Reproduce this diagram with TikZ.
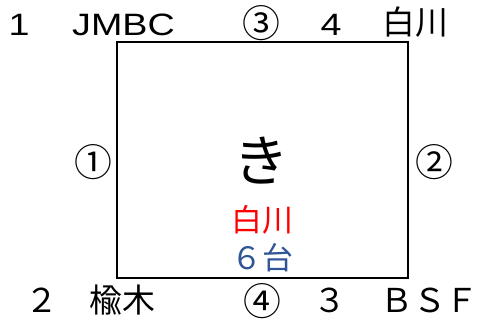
\documentclass[tikz,border=0pt]{standalone}
\usepackage{fontspec}
\setmainfont{Noto Sans CJK JP}
\newfontfamily\latinfont[FakeStretch=1.22]{Liberation Sans}
\definecolor{carblue}{RGB}{47,85,151}

\begin{document}
\begin{tikzpicture}[x=1bp,y=1bp,
  lbl/.style={font=\fontsize{33}{33}\selectfont, inner sep=0pt},
  lat/.style={font=\latinfont\fontsize{31}{31}\selectfont, inner sep=0pt},
  circ/.style={font=\fontsize{38}{38}\selectfont, inner sep=0pt},
  mid/.style={font=\fontsize{31}{31}\selectfont, inner sep=0pt}]
\useasboundingbox (0,0) rectangle (479,321);
% Parking box
\draw[line width=2bp] (117,43) rectangle (408,279);

% Top row
\node[lat, anchor=base] (n1) at (19,286) {1};
\node[lat, anchor=base] (jmbc) at (123.5,286) {JMBC};
\node[circ] (c3) at (261.5,297.5) {③};
\node[lat, anchor=base] (n4) at (331,286) {4};
\node[lbl] (shira) at (415,298.5) {白川};

% Sides
\node[circ] (c1) at (93,159) {①};
\node[circ] (c2) at (434,158.5) {②};

% Bottom row
\node[lbl, anchor=base] (n2) at (42,9) {２};
\node[lbl] (nire) at (122,21) {楡木};
\node[circ] (c4) at (262,20) {④};
\node[lbl, anchor=base] (n3) at (330,9) {３};
\node[lbl, anchor=base east] (bsf) at (479,9) {ＢＳＦ};

% Centre
\node[font=\fontsize{56}{56}\selectfont, inner sep=0pt] (ki) at (261.5,160) {き};
\node[mid, text=red] (dest) at (262.5,101.5) {白川};
\node[mid, text=carblue] (cars) at (262.5,63.5) {６台};
\end{tikzpicture}
\end{document}
